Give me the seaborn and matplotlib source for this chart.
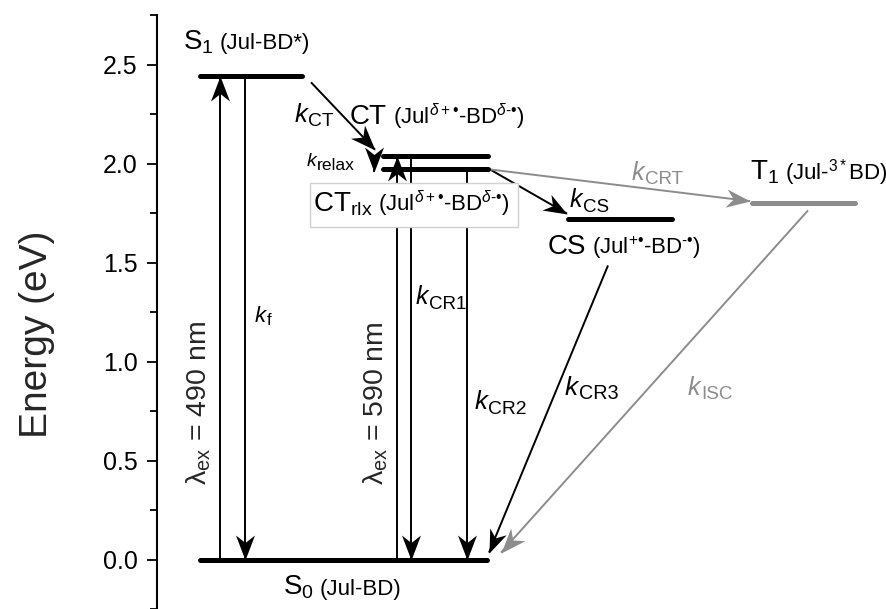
import numpy as np
import matplotlib
matplotlib.use("Agg")
import matplotlib.pyplot as plt
import pandas as pd
import seaborn as sns
from matplotlib.patches import Rectangle
from matplotlib.path import Path

# ---- energy levels (eV) and their horizontal extents (diagram x units) ----
level_names = ["S0", "S1", "CT", "CTrlx", "CS", "T1"]
level_energy = [0.0, 2.44, 2.04, 1.97, 1.72, 1.80]
level_x0 = [200, 200, 383, 383, 568, 752]
level_x1 = [487, 302, 488, 488, 672, 855]
level_color = ["black", "black", "black", "black", "black", "#8c8c8c"]

# ---- transitions: start (x, E) -> end (x, E) ----
trans_names = ["ex490", "kf", "ex590", "kCR1", "kCR2", "kCT", "krelax",
               "kCS", "kCRT", "kCR3", "kISC"]
trans_x0 = [220, 245, 397, 411, 467, 311, 374, 490, 490, 608, 808]
trans_e0 = [0.0, 2.44, 0.0, 2.04, 1.97, 2.41, 2.04, 1.97, 1.97, 1.485, 1.763]
trans_x1 = [220, 245, 397, 411, 467, 375, 374, 567, 750, 489, 501]
trans_e1 = [2.44, 0.0, 2.04, 0.0, 0.0, 2.07, 1.955, 1.747, 1.81, 0.035, 0.035]
trans_color = ["black"] * 8 + ["#8c8c8c", "black", "#8c8c8c"]

GRAY = "#8c8c8c"
HY = "\u2010"   # typographic hyphen inside superscripts
BL = "\u2022"   # radical dot

sns.set_theme(style="ticks")
plt.rcParams["font.family"] = ["Liberation Sans", "DejaVu Sans"]
plt.rcParams["mathtext.fontset"] = "custom"
plt.rcParams["mathtext.rm"] = "Liberation Sans"
plt.rcParams["mathtext.it"] = "Liberation Sans:italic"
plt.rcParams["mathtext.bf"] = "Liberation Sans:bold"

fig = plt.figure(figsize=(8.86, 6.09), dpi=100)
ax = fig.add_axes([157 / 886, 0.0, 729 / 886, 594 / 609])
ax.set_xlim(157, 886)
ax.set_ylim(-0.25, 2.75)

# levels drawn as thick horizontal segments
rows = []
for name, e, a, b in zip(level_names, level_energy, level_x0, level_x1):
    rows.append({"level": name, "x": a, "E": e})
    rows.append({"level": name, "x": b, "E": e})
levels = pd.DataFrame(rows)
sns.lineplot(data=levels, x="x", y="E", hue="level", units="level",
             estimator=None, sort=False, legend=False, ax=ax,
             palette=dict(zip(level_names, level_color)),
             linewidth=3.6, solid_capstyle="round", zorder=3)

# notched (stealth-like) arrowhead, tip at the origin, pointing along +x
HEAD = np.array([[0.0, 0.0], [-1.0, 0.38], [-0.7, 0.0], [-1.0, -0.38], [0.0, 0.0]])
HEAD_CODES = [Path.MOVETO, Path.LINETO, Path.LINETO, Path.LINETO, Path.CLOSEPOLY]


def head_marker(angle):
    c, s = np.cos(angle), np.sin(angle)
    rot = HEAD @ np.array([[c, s], [-s, c]])
    return Path(rot, HEAD_CODES)


# transition arrows
for x0, e0, x1, e1, c in zip(trans_x0, trans_e0, trans_x1, trans_e1, trans_color):
    ax.plot([x0, x1], [e0, e1], color=c, lw=1.4, solid_capstyle="butt", zorder=2)
    p0, p1 = ax.transData.transform([(x0, e0), (x1, e1)])
    ang = np.arctan2(p1[1] - p0[1], p1[0] - p0[0])
    ax.plot([x1], [e1], marker=head_marker(ang), markersize=36, color=c,
            markeredgewidth=0, linestyle="none", zorder=2.5)

# boxed label for the relaxed CT state
ax.add_patch(Rectangle((310, 1.677), 208, 0.227, facecolor="white",
                       edgecolor="#d0d0d0", lw=1.0, zorder=4))

BIG, SMALL = 20, 16


def state(x, e, main, extra, color="black"):
    t = ax.text(x, e, main, fontsize=BIG, color=color, va="baseline",
                ha="left", zorder=5)
    ax.annotate(extra, xy=(1, e), xycoords=(t, "data"), xytext=(4, 0),
                textcoords="offset points", fontsize=SMALL, color=color,
                va="baseline", ha="left", zorder=5)


def rate(x, e, sub, size, color="black", sub_ratio=0.75):
    t = ax.text(x, e, "k", fontsize=size, fontstyle="italic", color=color,
                va="baseline", ha="left", zorder=5)
    ax.annotate(sub, xy=(1, e), xycoords=(t, "data"),
                xytext=(0.3, -0.22 * size * sub_ratio), textcoords="offset points",
                fontsize=size * sub_ratio, color=color, va="baseline",
                ha="left", zorder=5)


# state labels
state(183, 2.576, r"S$_1$", "(Jul-BD*)")
state(350, 2.197, "CT",
      rf"(Jul$^{{\delta+{BL}}}$-BD$^{{\delta{HY}{BL}}}$)")
state(313, 1.758, r"CT$_{\mathrm{rlx}}$",
      rf"(Jul$^{{\delta+{BL}}}$-BD$^{{\delta{HY}{BL}}}$)")
state(750, 1.919, r"T$_1$", r"(Jul-$^{3*}$BD)")
state(548, 1.545, "CS", rf"(Jul$^{{+{BL}}}$-BD$^{{{HY}{BL}}}$)")
state(283, -0.177, r"S$_0$", "(Jul-BD)")

# rate constant labels
rate(295, 2.212, "CT", 18.5)
rate(307, 1.985, "relax", 14, sub_ratio=0.9)
rate(632, 1.919, "CRT", 18, color=GRAY)
rate(570, 1.778, "CS", 18)
rate(255, 1.202, "f", 16)
rate(416, 1.288, "CR1", 18)
rate(475, 0.758, "CR2", 18.5)
rate(565, 0.833, "CR3", 19)
rate(688, 0.833, "ISC", 18, color=GRAY)

# excitation wavelengths
for x, s in [(199, "\u03bb$_{\\mathrm{ex}}$ = 490 nm"),
             (376, "\u03bb$_{\\mathrm{ex}}$ = 590 nm")]:
    ax.text(x, 0.79, s, fontsize=20.5, rotation=90, ha="center", va="center",
            zorder=5)

# axes styling
ax.set_yticks([0.0, 0.5, 1.0, 1.5, 2.0, 2.5])
ax.set_yticks([-0.25, 0.25, 0.75, 1.25, 1.75, 2.25, 2.75], minor=True)
ax.set_yticklabels(["0.0", "0.5", "1.0", "1.5", "2.0", "2.5"])
ax.set_xticks([])
ax.set_xlabel("")
ax.set_ylabel("Energy (eV)", fontsize=28)
ax.yaxis.set_label_coords(-0.14, 0.462)
ax.tick_params(axis="y", which="major", direction="out", length=7, width=1.3,
               labelsize=18, pad=7, color="black", labelcolor="black")
ax.tick_params(axis="y", which="minor", direction="out", length=5, width=1.3,
               color="black")
for side in ["top", "right", "bottom"]:
    ax.spines[side].set_visible(False)
ax.spines["left"].set_linewidth(1.5)
ax.spines["left"].set_color("black")
ax.set_facecolor("white")
fig.patch.set_facecolor("white")

fig.savefig("out.png", dpi=100, facecolor="white")
